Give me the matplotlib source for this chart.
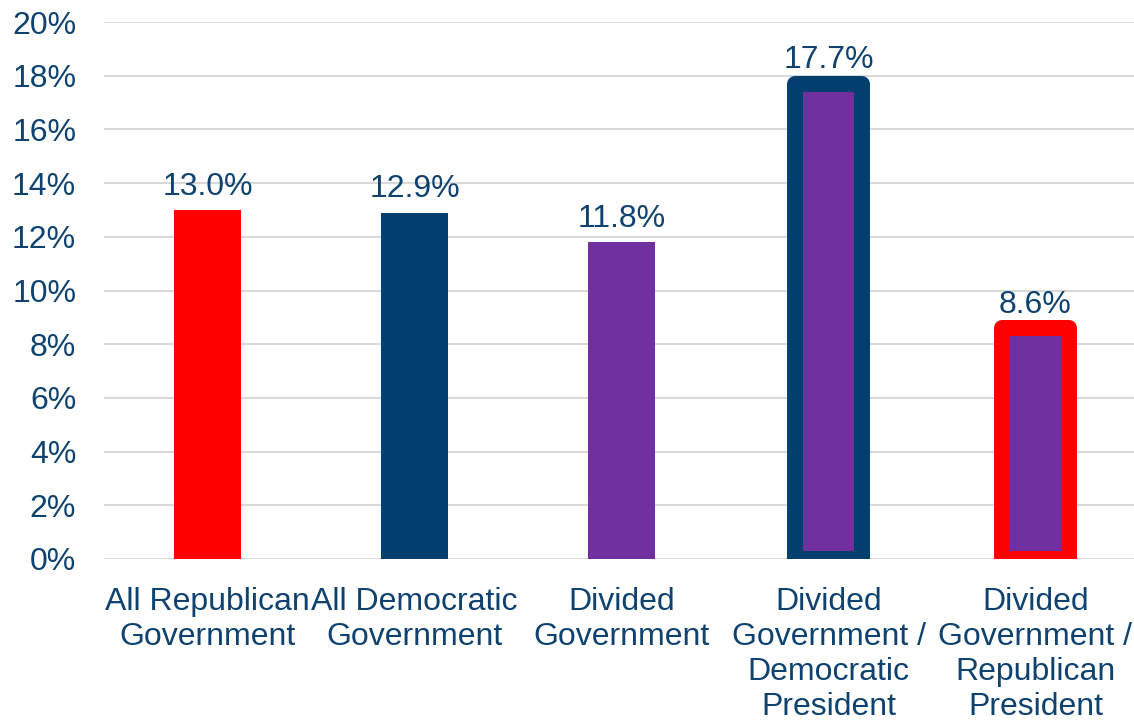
import matplotlib
matplotlib.use("Agg")
import matplotlib.pyplot as plt
from matplotlib.ticker import FuncFormatter

categories = ["All Republican\nGovernment", "All Democratic\nGovernment", "Divided\nGovernment",
              "Divided\nGovernment /\nDemocratic\nPresident", "Divided\nGovernment /\nRepublican\nPresident"]
values = [13.0, 12.9, 11.8, 17.7, 8.6]
labels = ["13.0%", "12.9%", "11.8%", "17.7%", "8.6%"]
yticks = [0, 2, 4, 6, 8, 10, 12, 14, 16, 18, 20]

RED = "#FF0000"
BLUE = "#003F6E"
PURPLE = "#7030A0"
TXT = "#0F426F"
fills = [RED, BLUE, PURPLE, PURPLE, PURPLE]
edges = [None, None, None, BLUE, RED]

FS = 23
plt.rcParams['font.family'] = ['Liberation Sans', 'DejaVu Sans']
fig = plt.figure(figsize=(11.34, 7.21), dpi=100)
ax = fig.add_axes([104/1134, 162/721, 1035/1134, 537/721])

x = list(range(len(values)))
for i, (v, f, e) in enumerate(zip(values, fills, edges)):
    if e is None:
        ax.bar(i, v, width=0.32, color=f, zorder=3)
    else:
        ax.bar(i, v, width=0.32, color=f, edgecolor=e, linewidth=11.5,
               joinstyle='round', zorder=3)
    ax.annotate(labels[i], (i, v), xytext=(0, 6), textcoords='offset points',
                ha='center', va='bottom', fontsize=FS, color=TXT)

ax.set_xlim(-0.5, 4.5)
ax.set_ylim(0, 20)
ax.set_yticks(yticks)
ax.yaxis.set_major_formatter(FuncFormatter(lambda v, p: f"{v:.0f}%"))
ax.set_xticks(x)
ax.set_xticklabels(categories, linespacing=1.22)
ax.tick_params(axis='both', length=0, labelsize=FS, labelcolor=TXT)
ax.tick_params(axis='y', pad=20)
ax.tick_params(axis='x', pad=20)
ax.grid(axis='y', color='#D9D9D9', linewidth=1.5, zorder=0)
for s in ax.spines.values():
    s.set_visible(False)

fig.savefig("out.png", dpi=100)
